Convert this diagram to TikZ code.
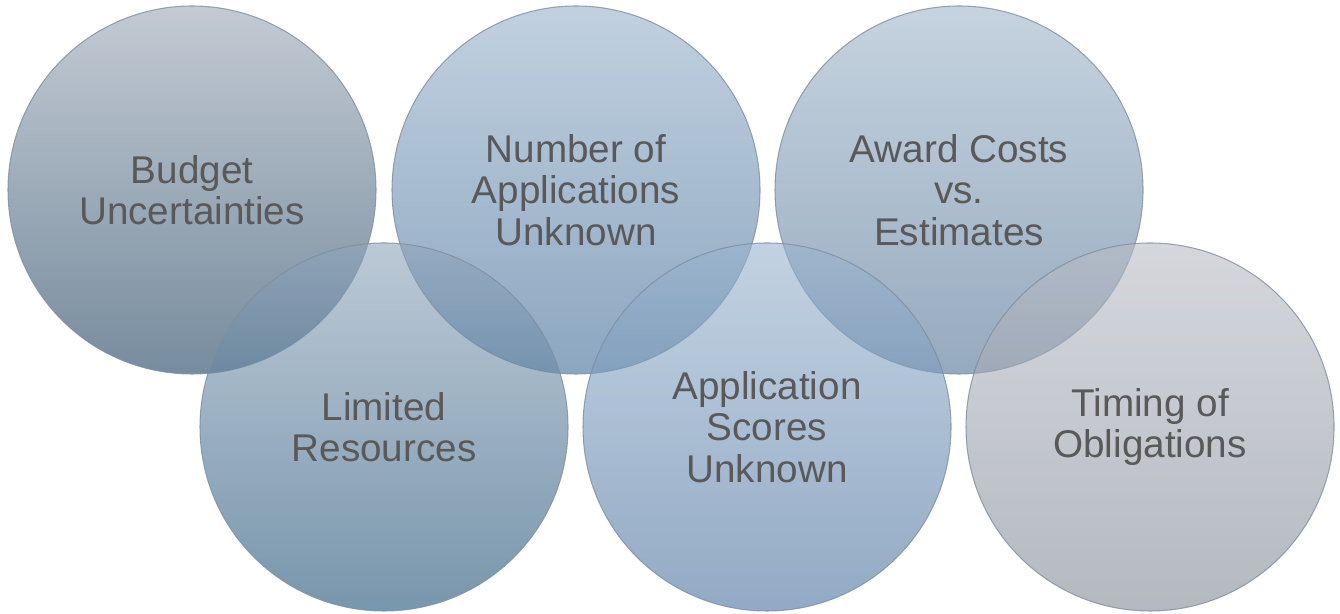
\documentclass[tikz,border=0pt]{standalone}
\usepackage{fontspec}
\setmainfont{Liberation Sans}
\usepackage{tikz}
\usetikzlibrary{shapes.geometric}

\definecolor{txtgray}{HTML}{595959}
\definecolor{rimgray}{HTML}{7F8FA0}
\definecolor{budgetTop}{HTML}{9BA7B6}
\definecolor{budgetBot}{HTML}{1B3F5D}
\definecolor{numberTop}{HTML}{98B2CB}
\definecolor{numberBot}{HTML}{3F6B96}
\definecolor{awardTop}{HTML}{A0B6CB}
\definecolor{awardBot}{HTML}{507193}
\definecolor{limitedTop}{HTML}{8FA5BB}
\definecolor{limitedBot}{HTML}{1E5075}
\definecolor{scoresTop}{HTML}{9BB4CF}
\definecolor{scoresBot}{HTML}{48719D}
\definecolor{timingTop}{HTML}{B9BCC5}
\definecolor{timingBot}{HTML}{828A96}

\tikzset{
	bubble/.style={circle, minimum size=7.36cm, inner sep=0pt,
		draw=rimgray, line width=0.6pt, fill opacity=0.6, draw opacity=0.8,
		text opacity=1, text=txtgray, align=center,
		font=\fontsize{22}{23.5}\selectfont}
}

\begin{document}
\begin{tikzpicture}
	\useasboundingbox (0,0) rectangle (26.8,12.28);
	
	% top row
	\node[bubble, top color=budgetTop, bottom color=budgetBot] (budget) at (3.84,8.48) {Budget\\Uncertainties};
	\node[bubble, top color=numberTop, bottom color=numberBot] (number) at (11.52,8.48) {Number of\\Applications\\Unknown};
	\node[bubble, top color=awardTop, bottom color=awardBot] (award) at (19.18,8.48) {Award Costs\\vs.\\Estimates};
	
	% bottom row
	\node[bubble, top color=limitedTop, bottom color=limitedBot] (limited) at (7.68,3.74) {Limited\\Resources};
	\node[bubble, top color=scoresTop, bottom color=scoresBot] (scores) at (15.34,3.74) {Application\\Scores\\Unknown};
	\node[bubble, top color=timingTop, bottom color=timingBot] (timing) at (23.0,3.74) {Timing of\\Obligations};
\end{tikzpicture}
\end{document}
